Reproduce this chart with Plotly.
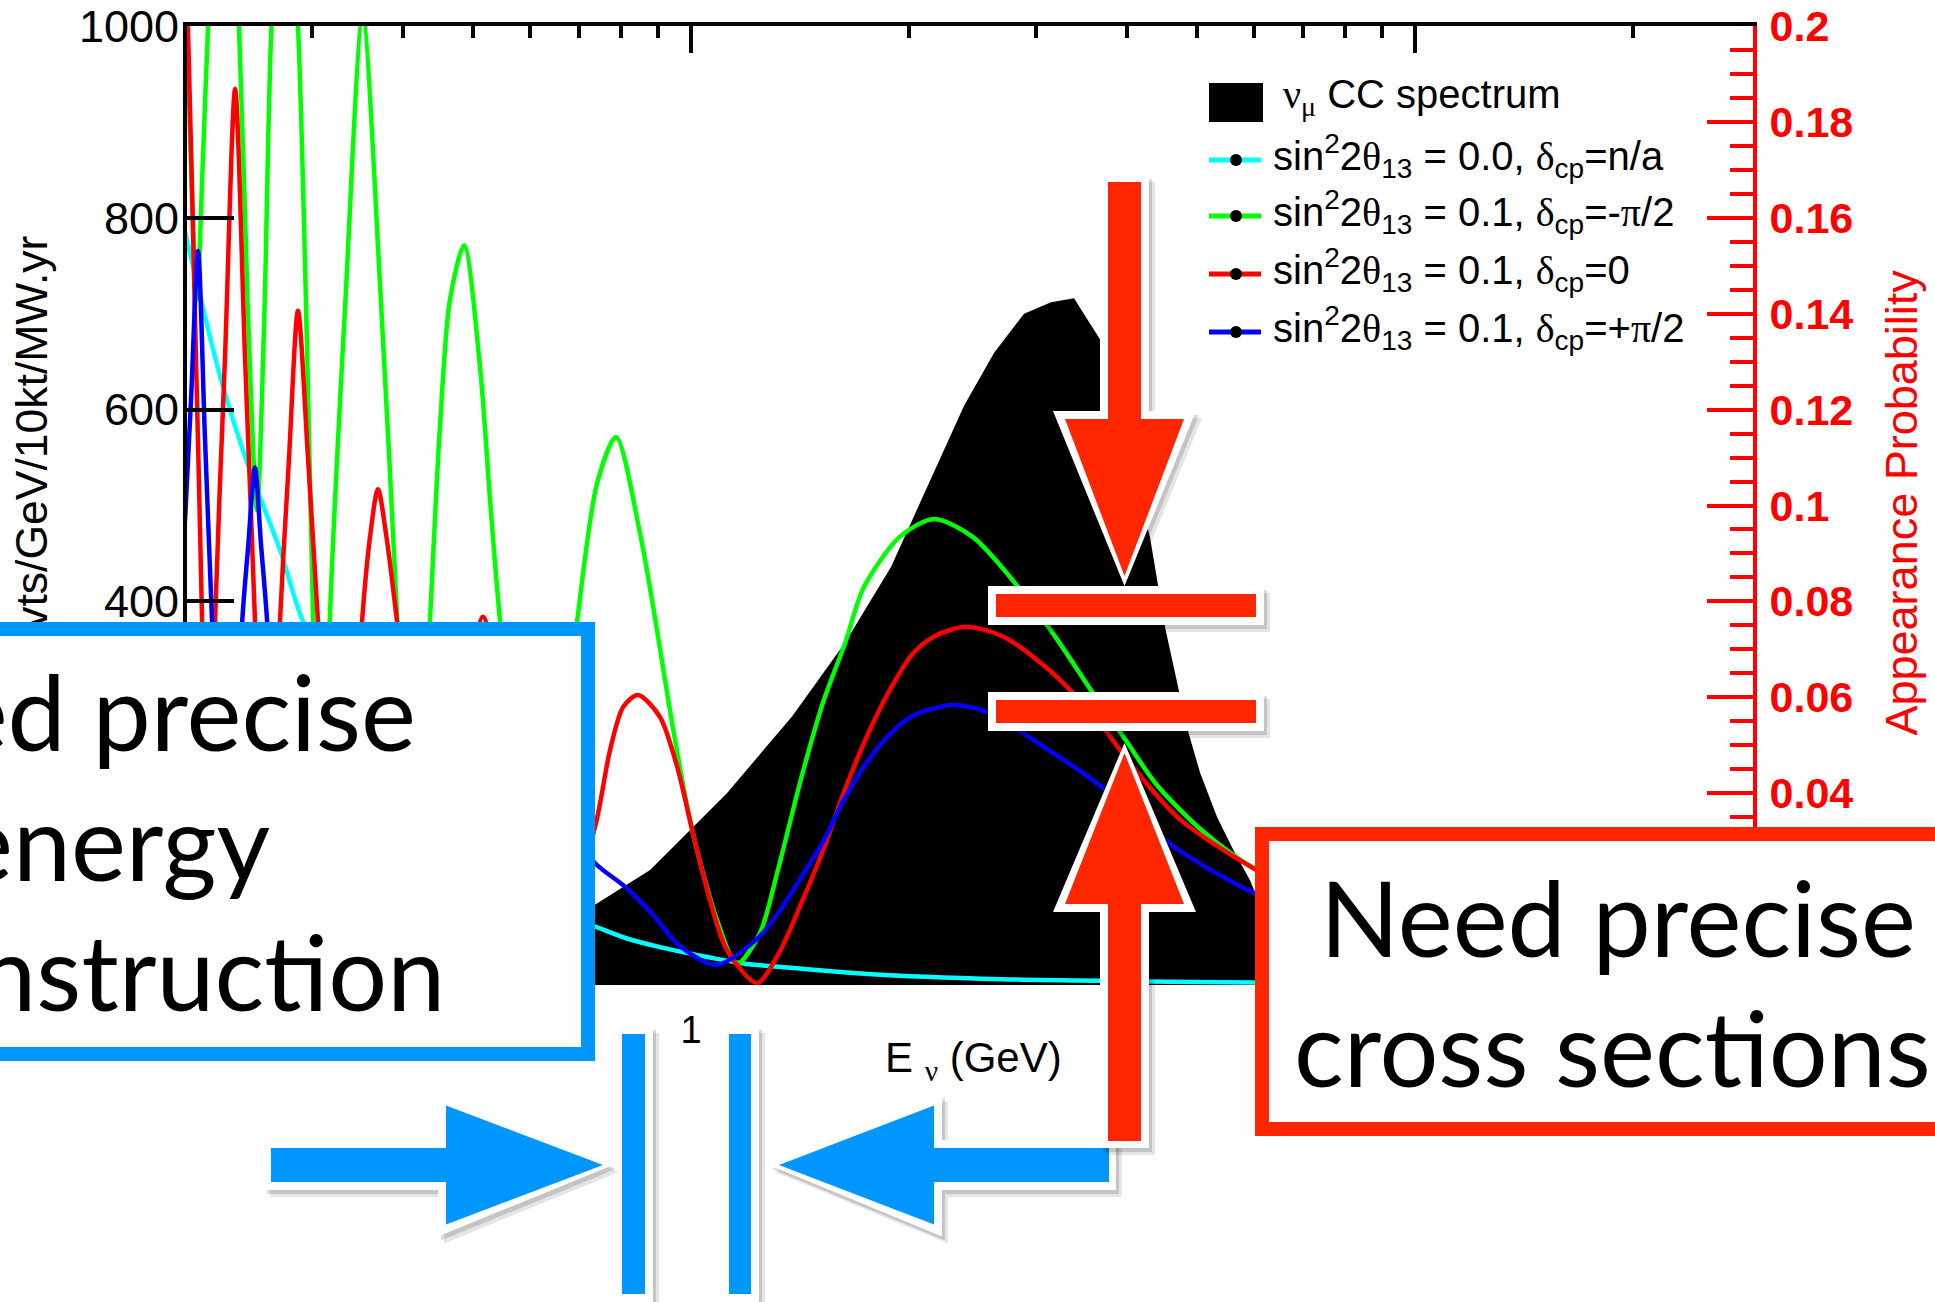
import math
import plotly.graph_objects as go

# ---------------- data ----------------
# nu_mu CC spectrum (events / GeV / 10kt / MW.yr), left axis
E_spec = [0.20, 0.30, 0.40, 0.50, 0.60, 0.734, 0.878, 1.006, 1.121, 1.379, 1.632, 1.889,
          2.383, 2.621, 2.884, 3.142, 3.381, 3.673, 3.976, 4.305, 4.516, 4.69, 4.84, 5.05,
          5.33, 5.61, 5.92, 6.03, 7.0, 8.0, 10.0, 15.0, 20.0, 30.0]
N_spec = [20, 35, 50, 60, 70, 83, 120, 165, 200, 280, 357, 436,
          604, 659, 700, 712, 716, 673, 570, 467, 373, 315, 269, 221,
          175, 141, 109, 94, 60, 40, 25, 10, 5, 2]

# appearance probabilities, right axis
E_cyan = [0.200, 0.210, 0.2236, 0.2437, 0.2706, 0.291, 0.35, 0.45, 0.55, 0.65, 0.737, 0.816,
          0.906, 0.994, 1.18, 1.32, 1.755, 2.687, 4.0, 5.99, 10.0, 30.0]
P_cyan = [0.1571, 0.1435, 0.127, 0.1089, 0.0907, 0.0759, 0.052, 0.0316, 0.0211, 0.0151, 0.0122, 0.0097,
          0.0079, 0.0066, 0.0045, 0.0038, 0.0023, 0.0012, 0.0008, 0.0005, 0.0003, 0.0001]

E_green = [0.200, 0.2035, 0.2078, 0.2115, 0.2153, 0.2260, 0.2375, 0.2444, 0.2515, 0.2575, 0.2634,
           0.2749, 0.2865, 0.3007, 0.3085, 0.317, 0.333, 0.352, 0.372, 0.393, 0.414, 0.436, 0.450,
           0.4645, 0.486, 0.5112, 0.5278, 0.545, 0.615, 0.696, 0.742, 0.788, 0.850, 0.884, 0.950,
           1.006, 1.086, 1.157, 1.245, 1.32, 1.419, 1.521, 1.634, 1.733, 1.944, 2.166, 2.452,
           2.803, 3.193, 3.59, 3.976, 4.40, 5.09, 6.03, 8.0, 10.0, 15.0, 20.0, 30.0]
P_green = [0.225, 0.175, 0.143, 0.170, 0.200, 0.260, 0.200, 0.140, 0.099, 0.140, 0.200,
           0.240, 0.200, 0.076, 0.004, 0.076, 0.142, 0.202, 0.146, 0.076, 0.004, 0.076, 0.1164,
           0.1429, 0.1543, 0.1289, 0.1011, 0.0757, 0.004, 0.0757, 0.1047, 0.1143, 0.0943, 0.080, 0.0513,
           0.0317, 0.0136, 0.0044, 0.0108, 0.0243, 0.043, 0.0588, 0.0715, 0.0830, 0.0935, 0.0972, 0.0934,
           0.0838, 0.0724, 0.0609, 0.0513, 0.0417, 0.0321, 0.0240, 0.015, 0.010, 0.0045, 0.0025, 0.0011]

E_red = [0.200, 0.2019, 0.2066, 0.2112, 0.2155, 0.2201, 0.2272, 0.2346, 0.2421, 0.2499, 0.2597,
         0.2706, 0.2785, 0.2865, 0.2958, 0.3053, 0.3275, 0.3513, 0.3600, 0.3695, 0.3800, 0.3925,
         0.4446, 0.490, 0.516, 0.545, 0.635, 0.737, 0.773, 0.806, 0.845, 0.906, 0.957, 1.006,
         1.062, 1.121, 1.234, 1.321, 1.419, 1.521, 1.634, 1.755, 1.883, 2.022, 2.173, 2.397,
         2.687, 3.09, 3.57, 4.11, 4.73, 5.99, 8.0, 10.0, 15.0, 20.0, 30.0]
P_red = [0.215, 0.200, 0.138, 0.076, 0.003, 0.076, 0.131, 0.1869, 0.131, 0.076, 0.003,
         0.076, 0.110, 0.1406, 0.110, 0.076, 0.003, 0.076, 0.093, 0.1034, 0.093, 0.076,
         0.003, 0.060, 0.0768, 0.060, 0.003, 0.033, 0.049, 0.058, 0.0605, 0.0559, 0.0455, 0.0317,
         0.0177, 0.0073, 0.0004, 0.0065, 0.0169, 0.028, 0.041, 0.0523, 0.0616, 0.069, 0.0728, 0.0747,
         0.0728, 0.0663, 0.0569, 0.0448, 0.0346, 0.0243, 0.015, 0.0105, 0.005, 0.003, 0.0013]

E_blue = [0.200, 0.2039, 0.2085, 0.2131, 0.218, 0.2286, 0.240, 0.2447, 0.2499, 0.2547, 0.2597,
          0.275, 0.32, 0.37, 0.45, 0.55, 0.66, 0.737, 0.809, 0.883, 0.964, 1.083, 1.23, 1.32,
          1.419, 1.521, 1.634, 1.755, 1.883, 2.022, 2.295, 2.57, 3.09, 3.57, 4.11, 4.73, 5.99,
          8.0, 10.0, 15.0, 20.0, 30.0]
P_blue = [0.0966, 0.122, 0.1531, 0.1145, 0.076, 0.003, 0.076, 0.092, 0.108, 0.092, 0.076,
          0.004, 0.060, 0.004, 0.050, 0.003, 0.035, 0.0254, 0.0206, 0.0149, 0.0082, 0.0042, 0.0094, 0.015,
          0.0224, 0.0298, 0.0392, 0.0467, 0.0523, 0.0561, 0.0584, 0.0569, 0.0494, 0.043, 0.0355, 0.028, 0.0192,
          0.012, 0.0085, 0.004, 0.0023, 0.001]

# axis ticks
x_major = [1, 10]
x_major_text = ["1", "10"]
x_minor = [0.3, 0.4, 0.5, 0.6, 0.7, 0.8, 0.9, 2, 3, 4, 5, 6, 7, 8, 9, 20]
y_left_vals = [0, 200, 400, 600, 800, 1000]
y_left_text = ["0", "200", "400", "600", "800", "1000"]
y_right_vals = [0, 0.02, 0.04, 0.06, 0.08, 0.1, 0.12, 0.14, 0.16, 0.18, 0.2]
y_right_text = ["0", "0.02", "0.04", "0.06", "0.08", "0.1", "0.12", "0.14", "0.16", "0.18", "0.2"]

# ---------------- geometry ----------------
W, H = 1935, 1302
PL, PR, PT, PB = 187.0, 1753.0, 26.0, 985.0
X1GEV, DEC = 691.0, 724.0          # pixel of 1 GeV, pixels per decade


def X(px):
    return (px - PL) / (PR - PL)


def Y(py):
    return (PB - py) / (PB - PT)


RED_A = "#FF2600"
BLUE_A = "#0096FF"
FONT = "Liberation Sans"
GREEK = "Liberation Serif"
BOXFONT = "Lato"


def g(ch):
    return f"<span style='font-family:{GREEK}'>{ch}</span>"


fig = go.Figure()
fig.add_trace(go.Scatter(x=E_spec, y=N_spec, mode="lines", line=dict(color="black", width=0),
                         fill="tozeroy", fillcolor="black", xaxis="x", yaxis="y",
                         showlegend=False, hoverinfo="skip"))
for E, P, col in [(E_cyan, P_cyan, "#00FFFF"), (E_green, P_green, "#00FF00"),
                  (E_red, P_red, "#FF0000"), (E_blue, P_blue, "#0000FF")]:
    fig.add_trace(go.Scatter(x=E, y=P, mode="lines",
                             line=dict(color=col, width=4.5, shape="spline", smoothing=0.8),
                             xaxis="x2", yaxis="y2", showlegend=False, hoverinfo="skip"))

xr = [(PL - X1GEV) / DEC, (PR - X1GEV) / DEC]   # log10 range of the energy axis
fig.update_layout(
    width=W, height=H, autosize=False,
    margin=dict(l=PL, r=W - PR, t=PT, b=H - PB, pad=0, autoexpand=False),
    paper_bgcolor="white", plot_bgcolor="white",
    font=dict(family=FONT, color="black"),
    showlegend=False,
    xaxis=dict(type="log", range=xr, showline=False, showgrid=False, zeroline=False,
               automargin=False,
               ticks="", tickmode="array", tickvals=x_major, ticktext=x_major_text,
               tickfont=dict(size=38, family=FONT), ticklabelstandoff=19),
    xaxis2=dict(type="log", range=xr, overlaying="x", side="top", anchor="y2",
                automargin=False,
                showline=True, linecolor="black", linewidth=4, showgrid=False, zeroline=False,
                ticks="inside", ticklen=27, tickwidth=4, tickcolor="black",
                tickmode="array", tickvals=x_major, showticklabels=False,
                minor=dict(tickmode="array", tickvals=x_minor, ticks="inside", ticklen=12,
                           tickwidth=4, tickcolor="black", showgrid=False)),
    yaxis=dict(range=[0, 1000], showline=True, linecolor="black", linewidth=4,
               automargin=False,
               showgrid=False, zeroline=False, ticks="inside", ticklen=47, tickwidth=4,
               tickcolor="black", tickmode="array", tickvals=y_left_vals, ticktext=y_left_text,
               tickfont=dict(size=45, family=FONT, color="black"), ticklabelstandoff=-5),
    yaxis2=dict(range=[0, 0.2], overlaying="y", side="right", anchor="x2",
                automargin=False,
                showline=True, linecolor="#FF0000", linewidth=4, showgrid=False, zeroline=False,
                ticks="inside", ticklen=46, tickwidth=4, tickcolor="#FF0000",
                tickmode="array", tickvals=y_right_vals, ticktext=y_right_text,
                tickfont=dict(size=43, family=FONT, color="#FF0000", weight="bold"),
                ticklabelstandoff=4,
                minor=dict(tickmode="linear", tick0=0, dtick=0.005, ticks="inside", ticklen=23,
                           tickwidth=4, tickcolor="#FF0000", showgrid=False)),
)

# ---------------- shapes ----------------
shapes = []


def poly_path(pts):
    return "M " + " L ".join(f"{X(x):.6f},{Y(y):.6f}" for x, y in pts) + " Z"


def add_poly(pts, color):
    shapes.append(dict(type="path", path=poly_path(pts), xref="paper", yref="paper",
                       fillcolor=color, line=dict(width=0), layer="above"))


def decorated(inner, outer, color):
    add_poly([(x + 6, y + 7) for x, y in outer], "rgba(0,0,0,0.10)")
    add_poly([(x + 3, y + 4) for x, y in outer], "rgba(0,0,0,0.14)")
    add_poly(outer, "white")
    add_poly(inner, color)


def varrow(cx, y0, yb, yt, s=16.5, h=59.5):
    return [(cx - s, y0), (cx + s, y0), (cx + s, yb), (cx + h, yb), (cx, yt),
            (cx - h, yb), (cx - s, yb)]


def harrow(cy, x0, xb, xt, s=17.0, h=59.5):
    return [(x0, cy - s), (xb, cy - s), (xb, cy - h), (xt, cy), (xb, cy + h),
            (xb, cy + s), (x0, cy + s)]


def v_deco(cx, y0, yb, yt, color):
    d = 1 if yt > y0 else -1
    decorated(varrow(cx, y0, yb, yt),
              varrow(cx, y0 - 7 * d, yb - 8 * d, yt + 10 * d, 24.5, 71.5), color)


def h_deco(cy, x0, xb, xt, color):
    d = 1 if xt > x0 else -1
    decorated(harrow(cy, x0, xb, xt),
              harrow(cy, x0 - 7 * d, xb - 8 * d, xt + 10 * d, 25.0, 71.5), color)


def rect_pts(x0, y0, x1, y1):
    return [(x0, y0), (x1, y0), (x1, y1), (x0, y1)]


def bar_deco(x0, y0, x1, y1, color, b=8):
    decorated(rect_pts(x0, y0, x1, y1), rect_pts(x0 - b, y0 - b, x1 + b, y1 + b), color)


# blue: energy reconstruction
bar_deco(622, 1034, 645, 1294, BLUE_A)
bar_deco(729, 1034, 751, 1294, BLUE_A)
h_deco(1165, 271, 446, 603, BLUE_A)
h_deco(1165, 1109, 934, 779, BLUE_A)
# red: cross sections
v_deco(1124.5, 182, 419, 576, RED_A)
v_deco(1124.5, 1141, 904, 753, RED_A)
bar_deco(996, 594, 1256, 617, RED_A)
bar_deco(996, 700, 1256, 723, RED_A)

# legend symbols
shapes.append(dict(type="rect", xref="paper", yref="paper", x0=X(1209), x1=X(1263),
                   y0=Y(122), y1=Y(83), fillcolor="black", line=dict(width=0), layer="above"))
leg_y = [160, 216, 274, 332]
leg_col = ["#00FFFF", "#00FF00", "#FF0000", "#0000FF"]
for ly, c in zip(leg_y, leg_col):
    shapes.append(dict(type="line", xref="paper", yref="paper", x0=X(1209), x1=X(1261),
                       y0=Y(ly), y1=Y(ly), line=dict(color=c, width=5), layer="above"))
    shapes.append(dict(type="circle", xref="paper", yref="paper", x0=X(1230), x1=X(1242),
                       y0=Y(ly + 6), y1=Y(ly - 6), fillcolor="black",
                       line=dict(width=0), layer="above"))

fig.update_layout(shapes=shapes)

# ---------------- annotations ----------------
anns = []


def ann(x, y, text, size, color="black", family=FONT, xanchor="center", yanchor="middle",
        angle=0, **kw):
    d = dict(x=X(x), y=Y(y), xref="paper", yref="paper", text=text, showarrow=False,
             xanchor=xanchor, yanchor=yanchor, textangle=angle,
             font=dict(family=family, size=size, color=color), borderwidth=0, borderpad=0)
    d.update(kw)
    return d


# axis titles
anns.append(ann(30.5, 447, "Evts/GeV/10kt/MW.yr", 44.5, angle=-90))
anns.append(ann(1901, 502.5, "Appearance Probability", 45, color="#FF0000", angle=-90))
anns.append(ann(973.5, 1060, f"E <sub>{g('ν')}</sub> (GeV)", 42))

# legend texts
anns.append(ann(1283, 97, f"{g('ν')}<sub>{g('μ')}</sub> CC spectrum", 40, xanchor="left"))
leg_txt = [
    f"sin<sup>2</sup>2{g('θ')}<sub>13</sub> = 0.0, {g('δ')}<sub>cp</sub>=n/a",
    f"sin<sup>2</sup>2{g('θ')}<sub>13</sub> = 0.1, {g('δ')}<sub>cp</sub>=-{g('π')}/2",
    f"sin<sup>2</sup>2{g('θ')}<sub>13</sub> = 0.1, {g('δ')}<sub>cp</sub>=0",
    f"sin<sup>2</sup>2{g('θ')}<sub>13</sub> = 0.1, {g('δ')}<sub>cp</sub>=+{g('π')}/2",
]
for ly, t in zip(leg_y, leg_txt):
    anns.append(ann(1273, ly - 4, t, 40, xanchor="left"))

# callout boxes (drawn above axis labels/titles)
anns.append(dict(x=X(595), y=Y(621.5), xref="paper", yref="paper", text=" ", showarrow=False,
                 xanchor="right", yanchor="top", width=700, height=411,
                 bgcolor="white", bordercolor=BLUE_A, borderwidth=14, borderpad=0))
anns.append(dict(x=X(1255), y=Y(827.4), xref="paper", yref="paper", text=" ", showarrow=False,
                 xanchor="left", yanchor="top", width=700, height=281,
                 bgcolor="white", bordercolor=RED_A, borderwidth=14, borderpad=0))

# callout texts
anns.append(ann(416, 710, "Need precise", 104, family=BOXFONT, xanchor="right"))
anns.append(ann(270, 840, "energy", 104, family=BOXFONT, xanchor="right"))
anns.append(ann(445, 970, "reconstruction", 104, family=BOXFONT, xanchor="right"))
anns.append(ann(1617.5, 916, "Need precise", 104, family=BOXFONT))
anns.append(ann(1612.5, 1046, "cross sections", 104, family=BOXFONT))

fig.update_layout(annotations=anns)

fig.write_html("out.html", config={"displayModeBar": False},
               post_script="document.body.style.margin='0';document.body.style.overflow='hidden';")
